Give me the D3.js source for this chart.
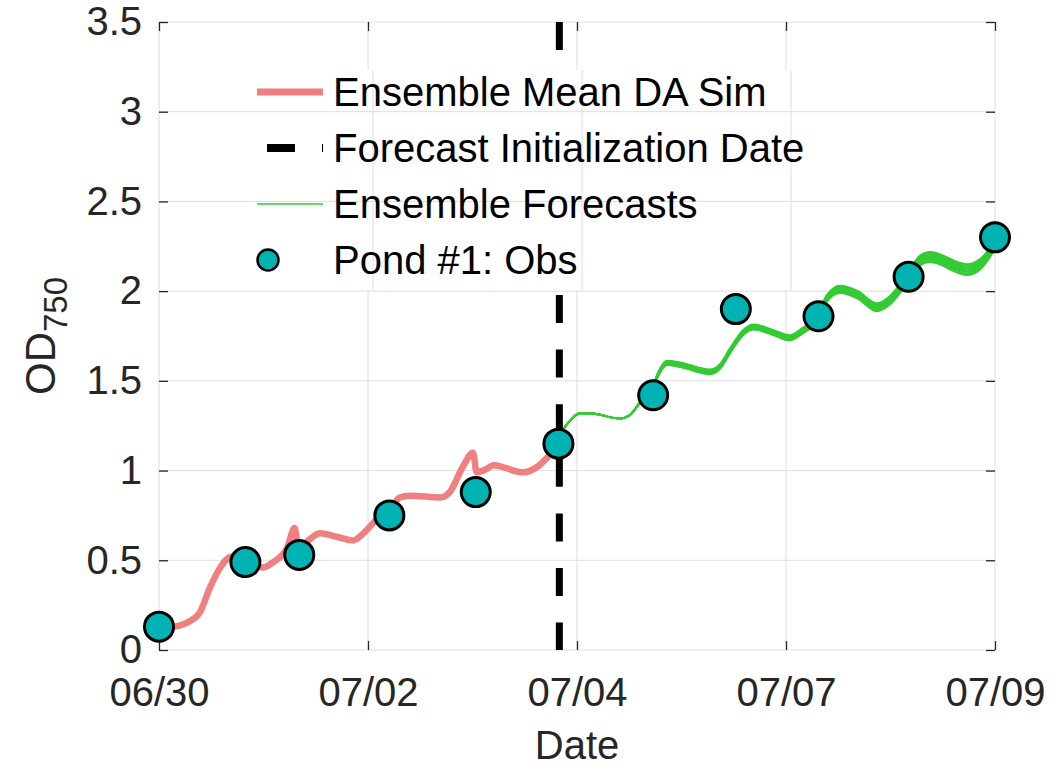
<!DOCTYPE html>
<html>
<head>
<meta charset="utf-8">
<script src="https://cdn.jsdelivr.net/npm/d3@7"></script>
<style>
  body { margin: 0; background: #fff; }
  text { font-family: "Liberation Sans", Arial, sans-serif; }
</style>
</head>
<body>
<div id="chart"></div>
<script>
// time is in days since the start of 06/30 run
const xTickVals = [0, 2.25, 4.5, 6.75, 9];
const xTickLabels = ["06/30", "07/02", "07/04", "07/07", "07/09"];
const yTickVals = [0, 0.5, 1, 1.5, 2, 2.5, 3, 3.5];
const yTickLabels = ["0", "0.5", "1", "1.5", "2", "2.5", "3", "3.5"];
const forecastInit = 4.31;

// ensemble mean DA simulation
const simDays = [0, 0.17, 0.33, 0.44, 0.55, 0.66, 0.78, 0.94, 1.12, 1.23, 1.38, 1.46, 1.50, 1.63, 1.73, 1.92,
                 2.09, 2.20, 2.35, 2.48, 2.59, 2.70, 3.03, 3.13, 3.27, 3.38, 3.42, 3.53, 3.60, 3.92, 4.07, 4.21, 4.31];
const simOD = [0.12, 0.13, 0.16, 0.21, 0.35, 0.46, 0.52, 0.49, 0.46, 0.49, 0.57, 0.68, 0.57, 0.62, 0.65, 0.63,
               0.61, 0.65, 0.73, 0.77, 0.85, 0.86, 0.85, 0.88, 1.02, 1.10, 0.99, 1.01, 1.03, 0.99, 1.02, 1.09, 1.15];

// ensemble forecasts: centre of the bundle and its half-width
const fcDays = [4.31, 4.32, 4.43, 4.53, 4.64, 4.96, 5.07, 5.18, 5.31, 5.36, 5.47, 5.61, 5.93, 6.04, 6.15, 6.29,
                6.40, 6.61, 6.79, 6.93, 7.06, 7.19, 7.33, 7.52, 7.73, 7.87, 8.03, 8.19, 8.30, 8.70, 8.84, 8.98];
const fcOD = [1.15, 1.19, 1.28, 1.32, 1.32, 1.29, 1.31, 1.38, 1.45, 1.52, 1.60, 1.59, 1.55, 1.58, 1.67, 1.77,
              1.80, 1.77, 1.74, 1.78, 1.83, 1.96, 2.01, 1.98, 1.91, 1.95, 2.05, 2.17, 2.19, 2.12, 2.15, 2.24];
const fcSpread = [0, 0, 0, 0, 0, 0, 0, 0.003, 0.007, 0.010, 0.012, 0.013, 0.013, 0.013, 0.014, 0.014,
                  0.014, 0.014, 0.014, 0.015, 0.016, 0.018, 0.020, 0.021, 0.022, 0.023, 0.024, 0.027, 0.028, 0.030, 0.029, 0.022];
const memberOffsets = [-1, -0.7, -0.4, -0.15, 0.15, 0.4, 0.7, 1];

// pond #1 observations
const obsDays = [0.0, 0.93, 1.51, 2.48, 3.41, 4.30, 5.32, 6.21, 7.10, 8.07, 9.0];
const obsOD = [0.13, 0.49, 0.53, 0.75, 0.88, 1.15, 1.42, 1.90, 1.86, 2.08, 2.30];

const legendLabels = ["Ensemble Mean DA Sim", "Forecast Initialization Date", "Ensemble Forecasts", "Pond #1: Obs"];

const width = 1051, height = 768;
const margin = {left: 159, top: 22, right: 56, bottom: 118};
const axisColor = "#262626";
const gridColor = "#dedede";
const simColor = "#F08080";
const fcColor = "#33CC33";
const obsColor = "#00B3B3";

const svg = d3.select("#chart")
    .append("svg")
    .attr("width", width)
    .attr("height", height);

const x = d3.scaleLinear().domain([0, 9]).range([margin.left, width - margin.right]);
const y = d3.scaleLinear().domain([0, 3.5]).range([height - margin.bottom, margin.top]);

// grid
const grid = svg.append("g").attr("stroke", gridColor).attr("stroke-width", 1);
grid.selectAll("line.gx").data(xTickVals).join("line")
    .attr("x1", d => x(d)).attr("x2", d => x(d))
    .attr("y1", y(0)).attr("y2", y(3.5));
grid.selectAll("line.gy").data(yTickVals).join("line")
    .attr("x1", x(0)).attr("x2", x(9))
    .attr("y1", d => y(d)).attr("y2", d => y(d));

// axes, MATLAB style: inward ticks on all four sides
const fmtX = (d, i) => xTickLabels[i];
const fmtY = (d, i) => yTickLabels[i];

function styleAxis(g) {
    g.select(".domain").remove();
    g.selectAll(".tick line").attr("stroke", axisColor).attr("stroke-width", 1.3);
    g.selectAll(".tick text").attr("fill", axisColor).style("font-size", "40px");
}

svg.append("g")
    .attr("transform", `translate(0,${y(0)})`)
    .call(d3.axisBottom(x).tickValues(xTickVals).tickFormat(fmtX).tickSizeInner(-9).tickPadding(28))
    .call(styleAxis);
svg.append("g")
    .attr("transform", `translate(0,${y(3.5)})`)
    .call(d3.axisTop(x).tickValues(xTickVals).tickFormat("").tickSizeInner(-9))
    .call(styleAxis);
svg.append("g")
    .attr("transform", `translate(${x(0)},0)`)
    .call(d3.axisLeft(y).tickValues(yTickVals).tickFormat(fmtY).tickSizeInner(-9).tickPadding(17))
    .call(styleAxis);
svg.append("g")
    .attr("transform", `translate(${x(9)},0)`)
    .call(d3.axisRight(y).tickValues(yTickVals).tickFormat("").tickSizeInner(-9))
    .call(styleAxis);

// axis labels
svg.append("text")
    .attr("x", (x(0) + x(9)) / 2).attr("y", 759)
    .attr("text-anchor", "middle").attr("fill", axisColor)
    .style("font-size", "40px")
    .text("Date");

const ylab = svg.append("text")
    .attr("transform", `translate(55,${(y(0) + y(3.5)) / 2}) rotate(-90)`)
    .attr("text-anchor", "middle").attr("fill", axisColor)
    .style("font-size", "42px");
ylab.append("tspan").text("OD");
ylab.append("tspan").attr("dy", 12).style("font-size", "33px").text("750");

// ensemble mean DA sim
const simLine = d3.line()
    .x((d, i) => x(simDays[i]))
    .y(d => y(d))
    .curve(d3.curveMonotoneX);
svg.append("path")
    .attr("d", simLine(simOD))
    .attr("fill", "none").attr("stroke", simColor)
    .attr("stroke-width", 6.5).attr("stroke-linejoin", "round");

// ensemble forecasts
const fcLine = d3.line()
    .x(d => x(d[0]))
    .y(d => y(d[1]))
    .curve(d3.curveMonotoneX);
svg.append("g").selectAll("path")
    .data(memberOffsets)
    .join("path")
    .attr("d", k => fcLine(fcDays.map((t, i) => [t, fcOD[i] + k * fcSpread[i]])))
    .attr("fill", "none").attr("stroke", fcColor).attr("stroke-width", 2);

// forecast initialization line
svg.append("line")
    .attr("x1", x(forecastInit)).attr("x2", x(forecastInit))
    .attr("y1", y(3.5)).attr("y2", y(0))
    .attr("stroke", "#000").attr("stroke-width", 7)
    .attr("stroke-dasharray", "28,26.6");

// observations
svg.append("g").selectAll("circle")
    .data(obsOD)
    .join("circle")
    .attr("cx", (d, i) => x(obsDays[i]))
    .attr("cy", d => y(d))
    .attr("r", 14.5)
    .attr("fill", obsColor).attr("stroke", "#000").attr("stroke-width", 3);

// legend: white box, grid shows through it slightly offset as in the original export
const legend = svg.append("g");
const box = {x0: 245, x1: 830, y0: 70, y1: 290};
legend.append("rect")
    .attr("x", box.x0).attr("y", box.y0)
    .attr("width", box.x1 - box.x0).attr("height", box.y1 - box.y0)
    .attr("fill", "#fff");
legend.selectAll("line.lgx")
    .data(xTickVals.filter(d => x(d) > box.x0 && x(d) < box.x1))
    .join("line")
    .attr("x1", d => x(d) + 5).attr("x2", d => x(d) + 5)
    .attr("y1", box.y0).attr("y2", box.y1)
    .attr("stroke", gridColor);
legend.selectAll("line.lgy")
    .data(yTickVals.filter(d => y(d) > box.y0 && y(d) < box.y1))
    .join("line")
    .attr("x1", box.x0).attr("x2", box.x1)
    .attr("y1", d => y(d)).attr("y2", d => y(d))
    .attr("stroke", gridColor);

const rowY = [92, 148, 204, 260];
const lx0 = 257, lx1 = 323;

legend.append("line").attr("x1", lx0).attr("x2", lx1).attr("y1", rowY[0]).attr("y2", rowY[0])
    .attr("stroke", simColor).attr("stroke-width", 7);
legend.append("line").attr("x1", lx0).attr("x2", lx1).attr("y1", rowY[1]).attr("y2", rowY[1])
    .attr("stroke", "#000").attr("stroke-width", 8)
    .attr("stroke-dasharray", "28,27").attr("stroke-dashoffset", 45);
legend.append("line").attr("x1", lx0).attr("x2", lx1).attr("y1", rowY[2]).attr("y2", rowY[2])
    .attr("stroke", fcColor).attr("stroke-width", 1.6);
legend.append("circle").attr("cx", 268).attr("cy", rowY[3]).attr("r", 10.5)
    .attr("fill", obsColor).attr("stroke", "#000").attr("stroke-width", 2.5);

legend.selectAll("text")
    .data(legendLabels)
    .join("text")
    .attr("x", 333)
    .attr("y", (d, i) => rowY[i] + 14)
    .attr("fill", "#000")
    .style("font-size", "40px")
    .text(d => d);
</script>
</body>
</html>
